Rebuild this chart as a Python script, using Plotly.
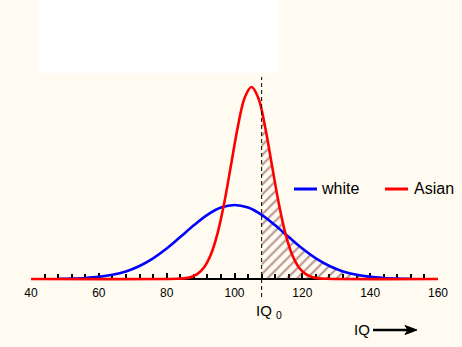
import numpy as np
import plotly.graph_objects as go

# ---- data (heights in arbitrary units) ----
white_iq = [48, 52, 56, 60, 64, 68, 72, 76, 80, 84, 88, 92, 96, 100,
            104, 108, 112, 116, 120, 124, 128, 132, 136, 140, 144, 148, 152]
white_h = [0.18, 0.44, 1.0, 2.1, 4.15, 7.6, 13.0, 20.6, 30.4, 41.9, 53.7, 64.2, 71.4, 74.0,
           71.4, 64.2, 53.7, 41.9, 30.4, 20.6, 13.0, 7.6, 4.15, 2.1, 1.0, 0.44, 0.18]

asian_iq = [40, 83, 85, 87, 89, 91, 93, 95, 97, 99, 101, 103, 105,
            107, 109, 111, 113, 115, 117, 119, 121, 123, 125, 127, 160]
asian_h = [0.0, 0.2, 0.6, 1.8, 4.9, 11.5, 24.2, 45.6, 76.6, 114.5, 152.6, 181.3, 192.0,
           181.3, 152.6, 114.5, 76.6, 45.6, 24.2, 11.5, 4.9, 1.8, 0.6, 0.2, 0.0]

iq0 = 108
tick_vals = [40, 60, 80, 100, 120, 140, 160]
series_names = ["white", "Asian"]
series_colors = ["#0000FF", "#FF0000"]

# ---- layout helpers (pixel -> data for decorations) ----
W, H = 462, 347
L, R = 31, 24
XMIN, XMAX = 40, 160
BASE_PX = 279
YTOP = BASE_PX
YBOT = BASE_PX - H


def px_x(p):
    return XMIN + (p - L) * (XMAX - XMIN) / (W - L - R)


def px_y(p):
    return BASE_PX - p


bg = "#FFFBF0"

fig = go.Figure()

# hatched tail region above IQ0 (under the upper envelope of both curves)
gx = np.arange(iq0, white_iq[-1] + 0.001, 0.25)
gy = np.maximum(np.interp(gx, white_iq, white_h), np.interp(gx, asian_iq, asian_h))
fig.add_trace(go.Scatter(
    x=np.concatenate([[iq0], gx, [gx[-1]]]),
    y=np.concatenate([[0], gy, [0]]),
    mode="lines", line=dict(width=0), fill="toself",
    fillcolor="rgba(0,0,0,0)",
    fillpattern=dict(shape="/", fgcolor="#6E2A2A", bgcolor="rgba(0,0,0,0)",
                     size=7, solidity=0.28),
    hoverinfo="skip", showlegend=False))

fig.add_trace(go.Scatter(x=white_iq, y=white_h, mode="lines", name=series_names[0],
                         line=dict(color=series_colors[0], width=2.6, shape="spline"),
                         showlegend=False))
fig.add_trace(go.Scatter(x=asian_iq, y=asian_h, mode="lines", name=series_names[1],
                         line=dict(color=series_colors[1], width=2.6, shape="spline"),
                         showlegend=False))

# arrow next to the "IQ" caption (pixel geometry)
ay = px_y(330)
tip = px_x(417)
head_back = px_x(405)
notch = px_x(408)
arrow_path = (f"M {tip},{ay} L {head_back},{ay + 4.5} L {notch},{ay} "
              f"L {head_back},{ay - 4.5} Z")

shapes = [
    # white box at top
    dict(type="rect", xref="x", yref="y", x0=px_x(38), x1=px_x(278),
         y0=px_y(73), y1=px_y(-2), fillcolor="white", line=dict(width=0), layer="below"),
    # IQ0 dashed line
    dict(type="line", xref="x", yref="y", x0=iq0, x1=iq0, y0=px_y(297), y1=px_y(77),
         line=dict(color="black", width=1, dash="4px,3px")),
    # legend samples
    dict(type="line", xref="x", yref="y", x0=px_x(294), x1=px_x(317), y0=px_y(189), y1=px_y(189),
         line=dict(color=series_colors[0], width=3)),
    dict(type="line", xref="x", yref="y", x0=px_x(385), x1=px_x(408), y0=px_y(189), y1=px_y(189),
         line=dict(color=series_colors[1], width=3)),
    # arrow shaft and head
    dict(type="line", xref="x", yref="y", x0=px_x(373), x1=notch + 0.3, y0=ay, y1=ay,
         line=dict(color="black", width=2.5)),
    dict(type="path", xref="x", yref="y", path=arrow_path, fillcolor="black",
         line=dict(color="black", width=1)),
]

font = "Arial, Liberation Sans, sans-serif"
annotations = [
    dict(x=px_x(319), y=px_y(188), xref="x", yref="y", text=series_names[0], showarrow=False,
         xanchor="left", yanchor="middle", font=dict(family=font, size=16, color="black")),
    dict(x=px_x(412), y=px_y(188), xref="x", yref="y", text=series_names[1], showarrow=False,
         xanchor="left", yanchor="middle", font=dict(family=font, size=16, color="black")),
    dict(x=px_x(254), y=px_y(311), xref="x", yref="y", text="IQ <sub>0</sub>", showarrow=False,
         xanchor="left", yanchor="middle", font=dict(family=font, size=15, color="black")),
    dict(x=px_x(352), y=px_y(329), xref="x", yref="y", text="IQ", showarrow=False,
         xanchor="left", yanchor="middle", font=dict(family=font, size=15, color="black")),
]

fig.update_layout(
    width=W, height=H,
    margin=dict(l=L, r=R, t=0, b=0),
    paper_bgcolor=bg, plot_bgcolor=bg,
    showlegend=False,
    shapes=shapes,
    annotations=annotations,
    xaxis=dict(range=[XMIN, XMAX], anchor="free", position=(H - BASE_PX) / H,
               showgrid=False, zeroline=False, showline=True, linecolor="black", linewidth=2,
               ticks="inside", ticklen=5, tickwidth=2, tickcolor="black",
               tickvals=tick_vals, ticktext=[str(v) for v in tick_vals],
               tickfont=dict(family=font, size=12, color="black"),
               ticklabelstandoff=3,
               minor=dict(ticks="inside", dtick=4, tick0=40, ticklen=4, tickwidth=2,
                          tickcolor="black", showgrid=False),
               layer="below traces", fixedrange=True),
    yaxis=dict(range=[YBOT, YTOP], visible=False, showgrid=False, zeroline=False,
               fixedrange=True),
)

fig.write_html("out.html")
